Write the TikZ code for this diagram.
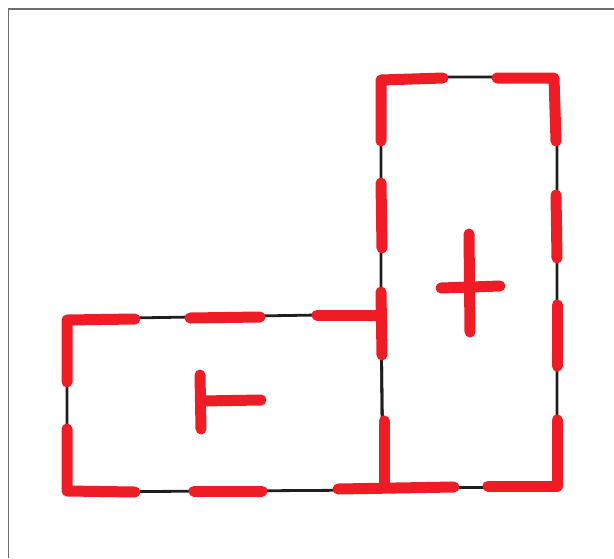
\documentclass[tikz,border=0pt]{standalone}
\definecolor{sketchred}{HTML}{EE1D25}
\definecolor{sketchink}{HTML}{1E1E1E}
\definecolor{framegray}{HTML}{6E6E6E}
\usetikzlibrary{calc}
\begin{document}
\begin{tikzpicture}[x=1pt, y=-1pt,
      outline/.style={sketchink, line width=2.8pt, line join=round},
      redstroke/.style={sketchred, line width=11pt, line cap=round, line join=round}]
            \useasboundingbox (0,0) rectangle (614,558);
            % Frame
            \draw[framegray, line width=1.5pt] (614,9) -- (8.5,9) -- (8.5,558);
            % Corners of the two boxes
            \coordinate (LA) at (67,319);
            \coordinate (LB) at (381,314);
            \coordinate (LC) at (383,490);
            \coordinate (LD) at (67,492);
            \coordinate (RA) at (381,77);
            \coordinate (RB) at (557,77);
            \coordinate (RC) at (557,487);
            \coordinate (RD) at (383,488);
            % Black outlines
            \draw[outline] (LA) -- (LB) -- (LC) -- (LD) -- cycle;
            \draw[outline] (RA) -- (RB) -- (RC) -- (RD) -- (LB) -- cycle;
            % Red dashes, left box
            \draw[redstroke] (67,382) -- (67,320) -- (135,319);
            \draw[redstroke] (190,318) -- (260,317);
            \draw[redstroke] (317,315) -- (380,315);
            \draw[redstroke] (381,292) -- (382,355);
            \draw[redstroke] (67,429) -- (67,491) -- (135,492);
            \draw[redstroke] (194,491) -- (262,491);
            \draw[redstroke] (338,489) -- (454,487);
            \draw[redstroke] (384,421) -- (384,487);
            % Red dashes, right box
            \draw[redstroke] (381,141) -- (381,80) -- (443,78);
            \draw[redstroke] (497,78) -- (554,78) -- (556,141);
            \draw[redstroke] (381,183) -- (382,248);
            \draw[redstroke] (556,195) -- (557,258);
            \draw[redstroke] (557,305) -- (557,366);
            \draw[redstroke] (557,420) -- (557,486) -- (488,486);
            % Signs
            \draw[redstroke] (200,375) -- (201,429);
            \draw[redstroke] (201,401) -- (261,400);
            \draw[redstroke] (469,234) -- (470,332);
            \draw[redstroke] (441,288) -- (500,286);
\end{tikzpicture}
\end{document}
